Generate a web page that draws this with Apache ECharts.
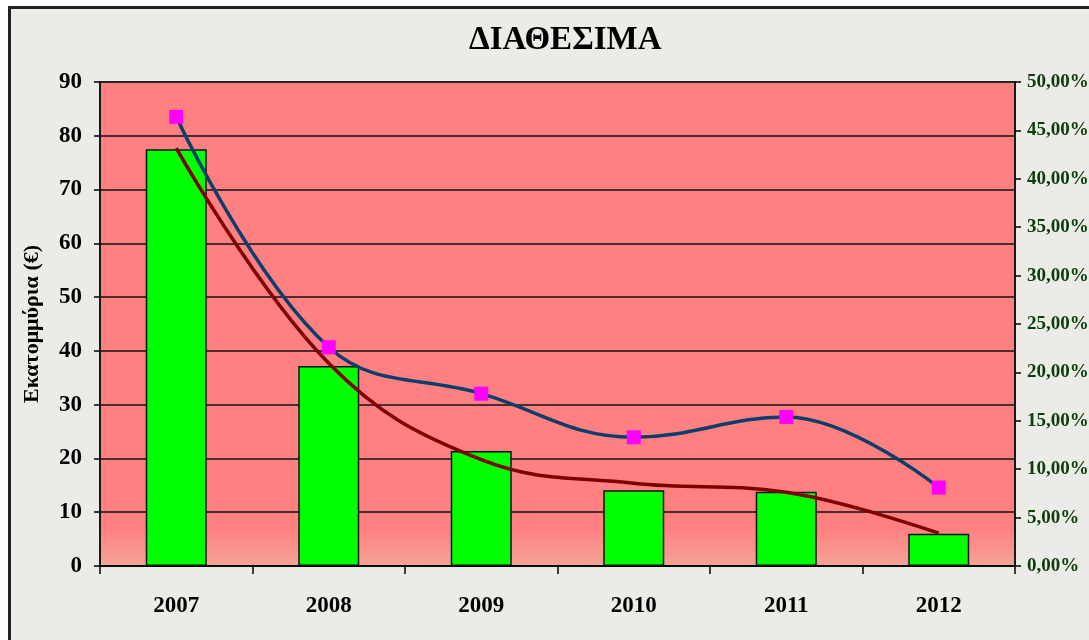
<!DOCTYPE html>
<html>
<head>
<meta charset="utf-8">
<script src="https://cdn.jsdelivr.net/npm/echarts@6/dist/echarts.min.js"></script>
<style>
  html, body { margin: 0; padding: 0; background: #fff; }
  .frame {
    position: absolute; left: 8px; top: 6px; width: 1100px; height: 660px;
    background: #ebebe7; border-left: 3px solid #222; border-top: 3px solid #222;
  }
  #chart { position: absolute; left: 0; top: 0; width: 1089px; height: 640px; }
</style>
</head>
<body>
<div class="frame"></div>
<div id="chart"></div>
<script>
// κατηγορίες (έτη)
const years = ['2007', '2008', '2009', '2010', '2011', '2012']
// διαθέσιμα σε εκατομμύρια € (μπάρες)
const barValues = [77.5, 37.2, 21.4, 14.1, 13.8, 6.0]
// σκούρα κόκκινη καμπύλη (αριστερός άξονας)
const redLine = [77.7, 37.7, 19.8, 15.4, 13.7, 6.1]
// ποσοστά % (δεξιός άξονας)
const pctValues = [46.4, 22.6, 17.8, 13.3, 15.4, 8.1]

const serif = 'Liberation Serif, Times New Roman, serif'

const chart = echarts.init(document.getElementById('chart'))

const option = {
  backgroundColor: 'transparent',
  animation: false,
  title: {
    text: 'ΔΙΑΘΕΣΙΜΑ',
    left: 464,
    top: 19,
    textStyle: { fontFamily: serif, fontWeight: 'bold', fontSize: 33, color: '#000' }
  },
  grid: {
    left: 100,
    right: 74,
    top: 82,
    bottom: 74,
    outerBoundsMode: 'none',
    containLabel: false,
    show: true,
    borderWidth: 2,
    borderColor: '#666',
    backgroundColor: {
      type: 'linear', x: 0, y: 0, x2: 0, y2: 1,
      colorStops: [
        { offset: 0, color: '#ff8080' },
        { offset: 0.92, color: '#ff8080' },
        { offset: 1, color: '#f3a596' }
      ]
    }
  },
  xAxis: {
    type: 'category',
    data: years,
    boundaryGap: true,
    axisLine: { lineStyle: { color: '#000', width: 1.5 } },
    axisTick: { show: true, length: 8, lineStyle: { color: '#000', width: 1.5 } },
    axisLabel: { margin: 29, fontFamily: serif, fontWeight: 'bold', fontSize: 23, color: '#000' }
  },
  yAxis: [
    {
      type: 'value',
      min: 0,
      max: 90,
      interval: 10,
      name: 'Εκατομμύρια (€)',
      nameLocation: 'middle',
      nameGap: 57,
      nameRotate: 90,
      nameTextStyle: { fontFamily: serif, fontWeight: 'bold', fontSize: 22, color: '#000' },
      axisLine: { show: true, lineStyle: { color: '#000', width: 1.5 } },
      axisTick: { show: true, length: 6, lineStyle: { color: '#000', width: 1.5 } },
      axisLabel: { margin: 18, fontFamily: serif, fontWeight: 'bold', fontSize: 23, color: '#000' },
      splitLine: { show: true, lineStyle: { color: '#111', width: 1.5 } }
    },
    {
      type: 'value',
      min: 0,
      max: 50,
      interval: 5,
      position: 'right',
      axisLine: { show: true, lineStyle: { color: '#000', width: 1.5 } },
      axisTick: { show: true, length: 6, lineStyle: { color: '#000', width: 1.5 } },
      axisLabel: {
        margin: 12,
        fontFamily: serif,
        fontWeight: 'bold',
        fontSize: 19,
        color: '#0d3b0d',
        formatter: v => v.toFixed(2).replace('.', ',') + '%'
      },
      splitLine: { show: false }
    }
  ],
  series: [
    {
      name: 'Διαθέσιμα',
      type: 'bar',
      data: barValues,
      barWidth: 61,
      itemStyle: { color: '#00ff00', borderColor: '#111', borderWidth: 1.5 },
      z: 2
    },
    {
      name: 'Καμπύλη',
      type: 'line',
      data: redLine,
      smooth: 0.4,
      showSymbol: false,
      lineStyle: { color: '#800000', width: 3.5 },
      z: 3
    },
    {
      name: 'Ποσοστό',
      type: 'line',
      yAxisIndex: 1,
      data: pctValues,
      smooth: 0.4,
      symbol: 'rect',
      symbolSize: 14,
      itemStyle: { color: '#ff00ff' },
      lineStyle: { color: '#0d3d6b', width: 3.5 },
      z: 4
    }
  ]
}

chart.setOption(option)
</script>
</body>
</html>
